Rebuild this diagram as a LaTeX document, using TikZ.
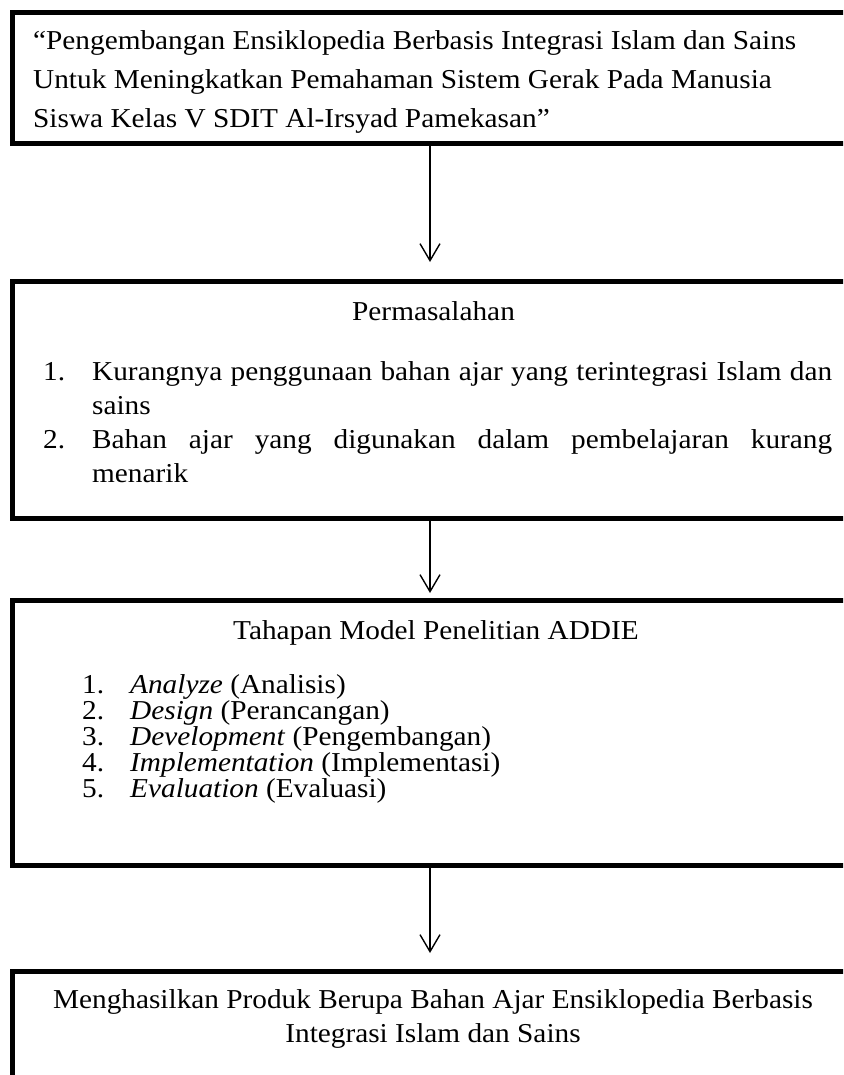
\documentclass[tikz,border=0pt]{standalone}
\usepackage{fontspec}
\setmainfont{Liberation Serif}[FakeStretch=1.073]
\usetikzlibrary{arrows.meta}

\newcommand{\nomor}[1]{\makebox[48pt][l]{#1}}

\begin{document}
\begin{tikzpicture}[x=1pt,y=-1pt,
    box/.style={draw,line width=5pt,minimum width=835pt,outer sep=0pt,inner sep=0pt,anchor=north west},
    txt/.style={anchor=base west,inner sep=0pt,font=\fontsize{27.3}{30}\selectfont},
    ctxt/.style={txt,anchor=base},
    flow/.style={-{Straight Barb[length=17pt,width=20pt]},line width=1.4pt}
  ]
  \useasboundingbox (0,0) rectangle (843,1075);
  \clip (0,0) rectangle (843,1075);
  % boxes
  \node[box,minimum height=131.5pt] (judul) at (12.5,12.5) {};
  \node[box,minimum height=237pt] (masalah) at (12.5,281) {};
  \node[box,minimum height=265pt] (addie) at (12.5,600) {};
  \node[box,minimum height=150pt] (produk) at (12.5,971) {};
  % title
  \node[txt] (j1) at (33,50) {“Pengembangan Ensiklopedia Berbasis Integrasi Islam dan Sains};
  \node[txt] (j2) at (33,89) {Untuk Meningkatkan Pemahaman Sistem Gerak Pada Manusia};
  \node[txt] (j3) at (33,128) {Siswa Kelas V SDIT Al-Irsyad Pamekasan”};
  % problems
  \node[txt] (m0) at (352,320) {Permasalahan};
  \node[txt] (m1n) at (43,380) {1.};
  \node[txt] (m1a) at (92,380) {\makebox[740pt][s]{Kurangnya penggunaan bahan ajar yang terintegrasi Islam dan}};
  \node[txt] (m1b) at (92,414) {sains};
  \node[txt] (m2n) at (43,448) {2.};
  \node[txt] (m2a) at (92,448) {\makebox[740pt][s]{Bahan ajar yang digunakan dalam pembelajaran kurang}};
  \node[txt] (m2b) at (92,482) {menarik};
  % ADDIE steps (base = last line)
  \node[txt] (a0) at (233,639) {Tahapan Model Penelitian ADDIE};
  \node[txt,align=left,font=\fontsize{27.3}{24.25}\selectfont] (langkah) at (82,797)
    {\nomor{1.}\textit{Analyze} (Analisis)\\
     \nomor{2.}\textit{Design} (Perancangan)\\
     \nomor{3.}\textit{Development} (Pengembangan)\\
     \nomor{4.}\textit{Implementation} (Implementasi)\\
     \nomor{5.}\textit{Evaluation} (Evaluasi)};
  % product
  \node[ctxt] (p1) at (433,1008) {Menghasilkan Produk Berupa Bahan Ajar Ensiklopedia Berbasis};
  \node[ctxt] (p2) at (433,1042) {Integrasi Islam dan Sains};
  % arrows
  \path%
    (judul) edge [flow,shorten >=19pt] (masalah)
    (masalah) edge [flow,shorten >=7pt] (addie)
    (addie) edge [flow,shorten >=18pt] (produk);
\end{tikzpicture}
\end{document}
